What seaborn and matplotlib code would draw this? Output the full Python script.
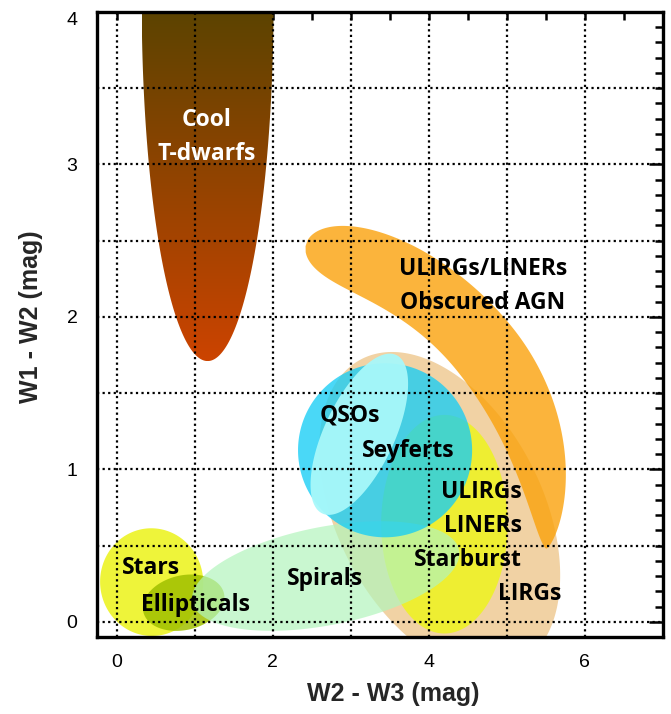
import numpy as np
import matplotlib
matplotlib.use("Agg")
import matplotlib.pyplot as plt
from matplotlib.patches import Polygon
from matplotlib.colors import LinearSegmentedColormap
import matplotlib.ticker as mticker
import seaborn as sns

# ── region shapes (data units; a/b in x-units, angle in screen degrees) ──
REGION_NAMES = ["LIRGs", "Stars", "Ellipticals", "ULIRGs/LINERs/Starburst",
                "Spirals", "Seyferts", "QSOs"]
REGION_X = [4.14, 0.45, 0.86, 4.20, 2.68, 3.44, 3.11]
REGION_Y = [0.72, 0.26, 0.125, 0.64, 0.30, 1.125, 1.23]
REGION_A = [2.20, 0.69, 0.53, 1.40, 1.74, 1.115, 1.12]
REGION_B = [1.32, 0.66, 0.35, 0.81, 0.63, 1.115, 0.45]
REGION_ANGLE = [-63, 95, 13, 90, 11, 0, 65]
REGION_COLORS = ["#f1d2a4", "#eef43a", "#a0c000", "#eef02c",
                 "#b2f5bc", "#17cdf6", "#a8f8fa"]
REGION_ALPHA = [1.0, 1.0, 0.85, 0.95, 0.7, 0.78, 0.95]
REGION_Z = [1, 1.1, 1.2, 1.3, 1.5, 1.6, 1.7]

# curved band: ULIRGs/LINERs, obscured AGN
BAND_CENTER = (1.885, 0.625)
BAND_RADIUS = 3.63
BAND_HALFWIDTH = 0.45
BAND_ANGLES = (81.5, -4.5)
BAND_COLOR = "#faa20b"

# cool T-dwarfs (vertical half ellipse with gradient)
TDWARF_X, TDWARF_Y = 1.167, 4.08
TDWARF_W, TDWARF_H = 1.69, 4.74
TDWARF_COLORS = ["#cc4400", "#5c4300"]

# labels
LABELS = ["Cool\nT-dwarfs", "ULIRGs/LINERs\nObscured AGN", "QSOs", "Seyferts",
          "ULIRGs\nLINERs\nStarburst", "LIRGs", "Stars", "Ellipticals", "Spirals"]
LABEL_X = [1.156, 4.69, 2.99, 3.74, 5.19, 5.29, 0.44, 1.01, 2.67]
LABEL_Y = [3.18, 2.20, 1.35, 1.12, 0.63, 0.18, 0.35, 0.11, 0.28]
LABEL_HA = ["center", "center", "center", "center", "right",
            "center", "center", "center", "center"]
LABEL_COLORS = ["white"] + ["black"] * 8

XLIM = (-0.25, 7.0)
YLIM = (-0.1, 4.0)
GRID_X = [0, 1, 2, 3, 4, 5, 6]
GRID_Y = [0, 0.5, 1, 1.5, 2, 2.5, 3, 3.5]

sns.set_theme(style="white")
plt.rcParams["font.family"] = ["Liberation Sans", "DejaVu Sans"]

W, H = 671, 714
AX_RECT = [97 / W, (H - 637) / H, (663 - 97) / W, (637 - 12) / H]
fig = plt.figure(figsize=(W / 100, H / 100), dpi=100)
ax = fig.add_axes(AX_RECT)

# ratio of pixels per y-unit to pixels per x-unit
K = (AX_RECT[3] * H / (YLIM[1] - YLIM[0])) / (AX_RECT[2] * W / (XLIM[1] - XLIM[0]))


def ellipse_xy(cx, cy, a, b, ang, n=300):
    t = np.linspace(0, 2 * np.pi, n)
    th = np.radians(ang)
    u, v = a * np.cos(t), b * np.sin(t)
    return (cx + u * np.cos(th) - v * np.sin(th),
            cy + (u * np.sin(th) + v * np.cos(th)) / K)


def band_xy(center, r, w, angles, n=400):
    s = np.linspace(-1, 1, n)
    ang = np.radians(angles[0] + (angles[1] - angles[0]) * (s + 1) / 2)
    # rounded head on the upper-left end, slimmer tail at the lower end
    head = np.sqrt(np.clip(1 - np.abs(s) ** 6, 0, None))
    tail = np.clip(1 - s ** 2, 0, None) ** 0.7
    half = w * np.where(s < 0, head, tail)
    ro, ri = r + half, r - half
    x = np.concatenate([center[0] + ro * np.cos(ang), (center[0] + ri * np.cos(ang))[::-1]])
    y = np.concatenate([center[1] + ro * np.sin(ang) / K, (center[1] + ri * np.sin(ang) / K)[::-1]])
    return x, y


for i, name in enumerate(REGION_NAMES):
    x, y = ellipse_xy(REGION_X[i], REGION_Y[i], REGION_A[i], REGION_B[i], REGION_ANGLE[i])
    ax.fill(x, y, color=REGION_COLORS[i], alpha=REGION_ALPHA[i], lw=0, zorder=REGION_Z[i])
    if name == "ULIRGs/LINERs/Starburst":
        bx, by = band_xy(BAND_CENTER, BAND_RADIUS, BAND_HALFWIDTH, BAND_ANGLES)
        ax.fill(bx, by, color=BAND_COLOR, alpha=0.8, lw=0, zorder=1.4)

# T-dwarf gradient
tx, ty = ellipse_xy(TDWARF_X, TDWARF_Y, TDWARF_W / 2, TDWARF_H / 2 * K, 0)
clip = Polygon(np.column_stack([tx, ty]), closed=True, transform=ax.transData,
               facecolor="none", edgecolor="none")
ax.add_patch(clip)
cmap = LinearSegmentedColormap.from_list("tdw", TDWARF_COLORS)
grad = np.linspace(0, 1, 256).reshape(-1, 1)
y_lo = TDWARF_Y - TDWARF_H / 2
im = ax.imshow(grad, cmap=cmap, origin="lower", aspect="auto",
               extent=[TDWARF_X - TDWARF_W / 2, TDWARF_X + TDWARF_W / 2, y_lo, YLIM[1]],
               zorder=1)
im.set_clip_path(clip)

# dotted grid over regions
for gx in GRID_X:
    ax.axvline(gx, color="black", lw=1.6, ls=(0, (1, 1.5)), zorder=3)
for gy in GRID_Y:
    ax.axhline(gy, color="black", lw=1.6, ls=(0, (1, 1.5)), zorder=3)

for i, lab in enumerate(LABELS):
    ax.text(LABEL_X[i], LABEL_Y[i], lab, ha=LABEL_HA[i], va="center",
            multialignment=LABEL_HA[i], color=LABEL_COLORS[i],
            fontsize=16.5, fontweight="bold", family=["Open Sans", "DejaVu Sans"],
            linespacing=1.55, zorder=5)

ax.set_xlim(*XLIM)
ax.set_ylim(*YLIM)
ax.xaxis.set_major_locator(mticker.FixedLocator([0, 2, 4, 6]))
ax.xaxis.set_minor_locator(mticker.MultipleLocator(0.5))
ax.yaxis.set_major_locator(mticker.FixedLocator([0, 1, 2, 3, 4]))
ax.yaxis.set_minor_locator(mticker.MultipleLocator(0.1))
ax.tick_params(which="both", direction="in", top=True, right=True,
               width=1.8, color="black", labelsize=14, labelcolor="black")
ax.tick_params(axis="x", which="both", length=6, pad=12)
ax.tick_params(axis="y", which="major", length=10, pad=14)
ax.tick_params(axis="y", which="minor", length=6)
for sp in ax.spines.values():
    sp.set_linewidth(2.4)
    sp.set_color("black")
    sp.set_zorder(6)

fig.canvas.draw()
ax.get_yticklabels()[-1].set_verticalalignment("top")

ax.set_xlabel("W2 - W3 (mag)", fontsize=18, fontweight="bold")
ax.set_ylabel("W1 - W2 (mag)", fontsize=18, fontweight="bold")
ax.xaxis.set_label_coords((393 - 97) / 566, (637 - 682) / 625)
ax.yaxis.set_label_coords((43 - 97) / 566, (637 - 317) / 625)

fig.savefig("out.png", dpi=100)
